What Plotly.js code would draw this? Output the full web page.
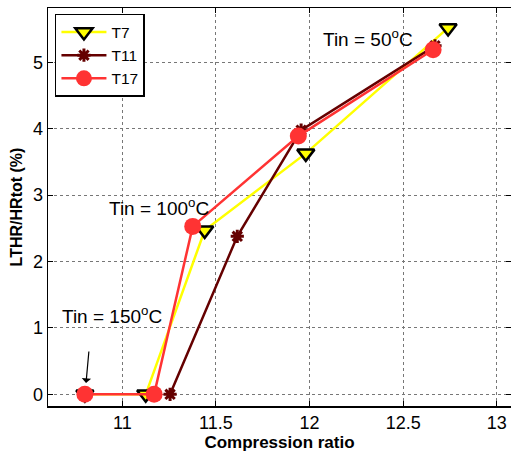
<!DOCTYPE html>
<html>
<head>
<meta charset="utf-8">
<script src="https://cdn.plot.ly/plotly-3.0.1.min.js"></script>
<style>html,body{margin:0;padding:0;background:#fff;}#chart{width:511px;height:453px;}</style>
</head>
<body>
<div id="chart"></div>
<script>
// Data
const seriesNames = ["T7", "T11", "T17"];
const t7_x = [10.80, 11.125, 11.44, 11.98, 12.74];
const t7_y = [0, 0, 2.47, 3.63, 5.52];
const t11_x = [11.255, 11.614, 11.955, 12.67];
const t11_y = [0, 2.38, 3.98, 5.25];
const t17_x = [10.80, 11.17, 11.376, 11.94, 12.66];
const t17_y = [0, 0, 2.53, 3.89, 5.19];
const annoText = ["Tin = 50<sup>o</sup>C", "Tin = 100<sup>o</sup>C", "Tin = 150<sup>o</sup>C"];
const annoX = [12.312, 11.196, 10.945];
const annoY = [5.37, 2.82, 1.19];
const xTicks = [11, 11.5, 12, 12.5, 13];
const yTicks = [0, 1, 2, 3, 4, 5];

const font = "Liberation Sans, Arial, Helvetica, sans-serif";

const traces = [
  {x: t7_x, y: t7_y, name: seriesNames[0], mode: "lines+markers",
   line: {color: "#ffff00", width: 2.5},
   marker: {symbol: "triangle-down", size: 15, color: "#ffff00", line: {color: "#000", width: 2.5}}},
  {x: t11_x, y: t11_y, name: seriesNames[1], mode: "lines+markers",
   line: {color: "#650000", width: 2.5},
   marker: {symbol: "asterisk", size: 11, color: "#650000", line: {color: "#650000", width: 3}}},
  {x: t17_x, y: t17_y, name: seriesNames[2], mode: "lines+markers",
   line: {color: "#ff3333", width: 2.5},
   marker: {symbol: "circle", size: 17, color: "#ff3333", line: {width: 0}}}
];

const annotations = annoText.map((t, i) => ({
  x: annoX[i], y: annoY[i], xref: "x", yref: "y", text: t, showarrow: false,
  font: {family: font, size: 19, color: "#000"}
}));
annotations.push({x: 10.806, y: 0.17, xref: "x", yref: "y", ax: 3, ay: -33, text: "",
  showarrow: true, arrowhead: 1, arrowsize: 1.3, arrowwidth: 1.2, arrowcolor: "#000"});

const layout = {
  width: 511, height: 453,
  margin: {l: 48, r: 0, t: 8, b: 47, pad: 0},
  paper_bgcolor: "#fff", plot_bgcolor: "#fff",
  font: {family: font, size: 17, color: "#000"},
  showlegend: true,
  legend: {x: 0.015, y: 0.985, xanchor: "left", yanchor: "top",
    bordercolor: "#000", borderwidth: 1.5, bgcolor: "#fff",
    font: {family: font, size: 15.5, color: "#000"}, tracegroupgap: 0, itemwidth: 45},
  xaxis: {range: [10.603, 13.076], tickvals: xTicks, ticktext: xTicks.map(String),
    showline: true, linecolor: "#000", linewidth: 1.5, mirror: "ticks",
    ticks: "inside", ticklen: 5, tickcolor: "#000",
    showgrid: true, gridcolor: "#777", griddash: "dot", gridwidth: 1, zeroline: false,
    tickfont: {family: font, size: 18},
    title: {text: "<b>Compression ratio</b>", font: {family: font, size: 17}, standoff: 2}},
  yaxis: {range: [-0.176, 5.82], tickvals: yTicks, ticktext: yTicks.map(String),
    showline: true, linecolor: "#000", linewidth: 1.5, mirror: "ticks",
    ticks: "inside", ticklen: 5, tickcolor: "#000",
    showgrid: true, gridcolor: "#777", griddash: "dot", gridwidth: 1, zeroline: false,
    tickfont: {family: font, size: 18},
    title: {text: "<b>LTHR/HRtot (%)</b>", font: {family: font, size: 16}, standoff: 6}},
  annotations: annotations
};

Plotly.newPlot("chart", traces, layout, {displayModeBar: false, staticPlot: true});
</script>
</body>
</html>
